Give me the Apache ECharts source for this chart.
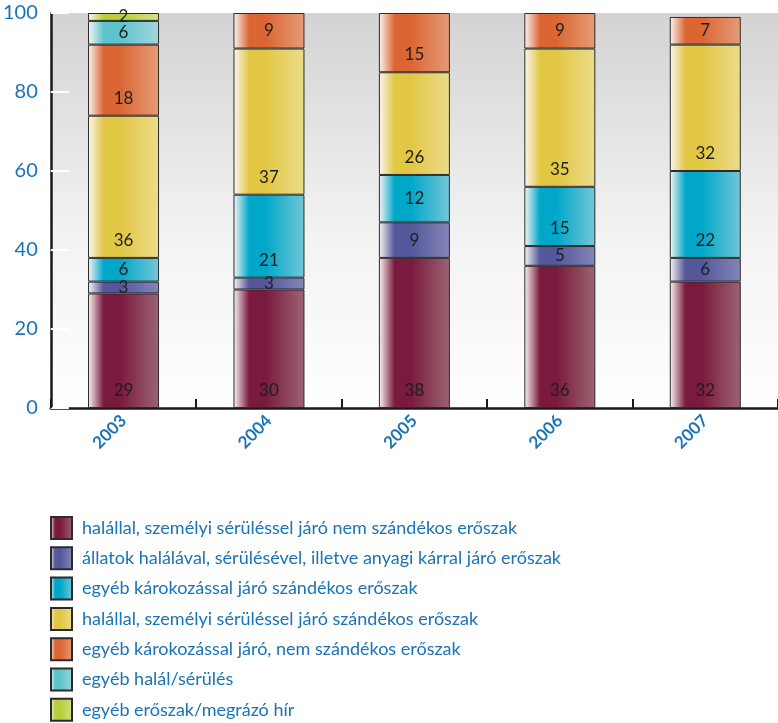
<!DOCTYPE html>
<html>
<head>
<meta charset="utf-8">
<script src="https://cdn.jsdelivr.net/npm/echarts@6/dist/echarts.min.js"></script>
<style>
  html, body { margin: 0; padding: 0; background: #ffffff; }
  #main { width: 778px; height: 723px; }
</style>
</head>
<body>
<div id="main"></div>
<script>
// évek (kategóriák)
var years = ['2003', '2004', '2005', '2006', '2007'];
var yTicks = [0, 20, 40, 60, 80, 100];

// sorozatok nevei
var names = [
  'halállal, személyi sérüléssel járó nem szándékos erőszak',
  'állatok halálával, sérülésével, illetve anyagi kárral járó erőszak',
  'egyéb károkozással járó szándékos erőszak',
  'halállal, személyi sérüléssel járó szándékos erőszak',
  'egyéb károkozással járó, nem szándékos erőszak',
  'egyéb halál/sérülés',
  'egyéb erőszak/megrázó hír'
];

// értékek (%), null = nincs ilyen szelet
var nemSzandekos = [29, 30, 38, 36, 32];
var allatok = [3, 3, 9, 5, 6];
var karSzandekos = [6, 21, 12, 15, 22];
var szandekos = [36, 37, 26, 35, 32];
var karNemSzandekos = [18, 9, 15, 9, 7];
var egyebHalal = [6, null, null, null, null];
var egyebEroszak = [2, null, null, null, null];

var values = [nemSzandekos, allatok, karSzandekos, szandekos, karNemSzandekos, egyebHalal, egyebEroszak];

// színek: [telített, világos]
var colors = [
  ['#7a1a3e', '#9c6472'],
  ['#55579b', '#8486b8'],
  ['#00a7c9', '#74c6d8'],
  ['#e2c744', '#ecdc8c'],
  ['#db6634', '#e59c77'],
  ['#5ec4cc', '#a2d7dc'],
  ['#b7cf3a', '#d2e088']
];

function barGradient(c) {
  return new echarts.graphic.LinearGradient(0, 0, 1, 0, [
    { offset: 0, color: '#fbf6f4' },
    { offset: 0.22, color: c[0] },
    { offset: 0.45, color: c[0] },
    { offset: 1, color: c[1] }
  ]);
}

var blue = '#1a73b6';

var series = [];
for (var i = 0; i < values.length; i++) {
  var data = [];
  for (var j = 0; j < values[i].length; j++) {
    var v = values[i][j];
    if (v === null) {
      data.push('-');
    } else {
      // kis szeleteknél középre, nagyobbaknál alulra kerül a felirat
      data.push({
        value: v,
        label: v > 12 ? { position: 'insideBottom', distance: 9 } : { position: 'inside' }
      });
    }
  }
  series.push({
    name: names[i],
    type: 'bar',
    stack: 'total',
    barWidth: 71,
    data: data,
    itemStyle: {
      color: barGradient(colors[i]),
      borderColor: '#2b2b2b',
      borderWidth: 1
    },
    label: {
      show: true,
      color: '#1e1e1e',
      fontSize: 17,
      fontFamily: 'Lato'
    }
  });
}

var myChart = echarts.init(document.getElementById('main'));

var option = {
  animation: false,
  grid: {
    show: true,
    left: 50,
    top: 13,
    width: 735,
    height: 395,
    borderWidth: 0,
    backgroundColor: new echarts.graphic.LinearGradient(0, 0, 0, 1, [
      { offset: 0, color: '#d3d3d3' },
      { offset: 0.55, color: '#f2f2f2' },
      { offset: 1, color: '#ffffff' }
    ])
  },
  legend: {
    orient: 'vertical',
    left: 50,
    top: 516,
    height: 260,
    padding: 0,
    icon: 'rect',
    itemWidth: 21,
    itemHeight: 22,
    itemGap: 6.3,
    data: names,
    textStyle: {
      color: blue,
      fontSize: 18,
      lineHeight: 22,
      fontFamily: 'Lato',
      padding: [0, 0, 0, 5]
    }
  },
  xAxis: {
    type: 'category',
    data: years,
    axisLine: { lineStyle: { color: '#1a1a1a', width: 2.5 } },
    axisTick: { show: true, inside: true, length: 9, lineStyle: { color: '#1a1a1a', width: 2 } },
    axisLabel: {
      rotate: 45,
      margin: 10,
      color: blue,
      fontSize: 17,
      fontWeight: 'bold',
      fontFamily: 'Lato'
    }
  },
  yAxis: {
    type: 'value',
    min: yTicks[0],
    max: yTicks[yTicks.length - 1],
    interval: 20,
    splitLine: { show: false },
    axisLine: { show: true, lineStyle: { color: '#1a1a1a', width: 2.5 } },
    axisTick: { show: true, inside: true, length: 18, lineStyle: { color: '#ffffff', width: 2 } },
    axisLabel: {
      margin: 13,
      color: blue,
      fontSize: 20,
      fontFamily: 'Lato'
    }
  },
  series: series
};

myChart.setOption(option);
</script>
</body>
</html>
